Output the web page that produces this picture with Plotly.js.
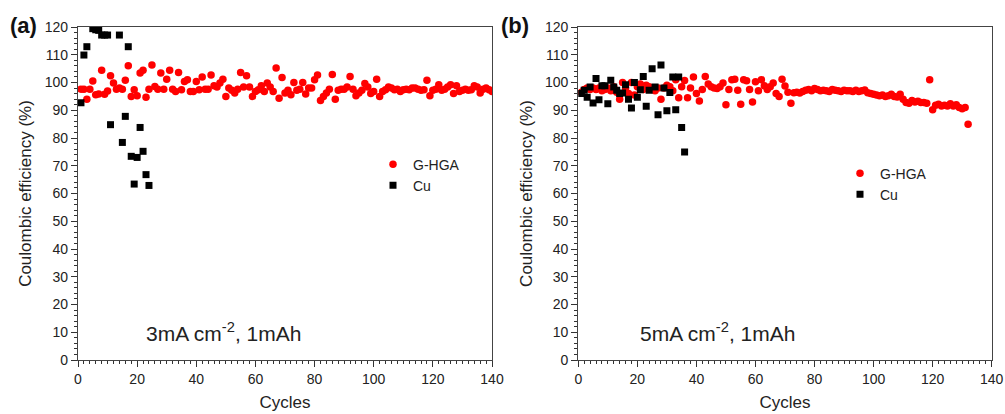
<!DOCTYPE html>
<html>
<head>
<meta charset="utf-8">
<script src="https://cdn.plot.ly/plotly-3.0.1.min.js"></script>
<style>html,body{margin:0;padding:0;background:#fff;}#chart{width:1005px;height:414px;}</style>
</head>
<body>
<div id="chart"></div>
<script>
// ---- Panel (a): 3 mA cm-2, 1 mAh ----
const cyclesA_G = [1,2,3,4,5,6,7,8,9,10,11,12,13,14,15,16,17,18,19,20,21,22,23,24,25,26,27,28,29,30,31,32,33,34,35,36,37,38,39,40,41,42,43,44,45,46,47,48,49,50,51,52,53,54,55,56,57,58,59,60,61,62,63,64,65,66,67,68,69,70,71,72,73,74,75,76,77,78,79,80,81,82,83,84,85,86,87,88,89,90,91,92,93,94,95,96,97,98,99,100,101,102,103,104,105,106,107,108,109,110,111,112,113,114,115,116,117,118,119,120,121,122,123,124,125,126,127,128,129,130,131,132,133,134,135,136,137,138,139,140];
const effA_G = [97.6,97.6,94.0,97.6,100.5,95.6,95.9,104.4,95.8,96.9,
102.4,99.8,97.6,98.0,97.6,100.8,106.0,95.0,97.4,95.2,
103.4,104.4,94.7,97.6,106.3,98.6,97.6,103.4,97.6,101.2,
104.4,97.6,96.8,103.6,97.4,100.4,101.0,96.8,96.8,100.4,
97.4,102.0,97.6,97.6,102.7,98.8,98.4,99.8,101.2,95.0,
98.0,97.2,96.2,97.6,103.6,98.4,102.4,98.4,95.0,96.8,
97.4,98.8,96.8,99.8,98.4,96.8,105.2,94.3,101.8,96.2,
97.2,95.6,100.0,97.2,97.6,100.0,95.9,98.0,98.0,101.0,
102.7,93.5,95.0,96.2,97.6,102.9,94.0,97.2,97.6,97.6,
98.4,102.2,97.6,95.2,96.2,97.2,99.6,98.4,96.0,96.8,
101.2,95.0,96.8,97.4,98.4,98.0,97.4,97.6,96.8,97.4,
97.6,97.4,98.0,98.0,97.6,97.2,97.4,100.8,95.2,97.2,
97.6,99.2,97.2,97.6,98.4,99.2,96.0,98.8,96.8,97.2,
97.6,97.2,97.4,98.8,98.4,96.2,97.6,98.0,97.4,96.8];
const cyclesA_Cu = [1,2,3,5,6,7,8,9,10,11,14,15,16,17,18,19,20,21,22,23,24];
const effA_Cu = [92.7,109.9,112.9,119.4,119.0,118.8,117.1,117.1,117.1,84.8,117.1,78.4,87.8,112.9,73.4,63.4,73.0,83.8,75.2,66.8,62.9];

// ---- Panel (b): 5 mA cm-2, 1 mAh ----
const cyclesB_G = [1,2,3,4,5,6,7,8,9,10,11,12,13,14,15,16,17,18,19,20,21,22,23,24,25,26,27,28,29,30,31,32,33,34,35,36,37,38,39,40,41,42,43,44,45,46,47,48,49,50,51,52,53,54,55,56,57,58,59,60,61,62,63,64,65,66,67,68,69,70,71,72,73,74,75,76,77,78,79,80,81,82,83,84,85,86,87,88,89,90,91,92,93,94,95,96,97,98,99,100,101,102,103,104,105,106,107,108,109,110,111,112,113,114,115,116,117,118,119,120,121,122,123,124,125,126,127,128,129,130,131,132];
const effB_G = [96.5,97.5,98.0,97.5,98.0,97.5,98.0,97.0,97.5,98.0,
97.0,98.5,96.5,94.0,100.0,98.0,96.0,100.0,95.5,98.5,
99.5,97.5,99.0,98.5,97.5,97.0,98.0,94.0,98.0,99.0,
98.5,97.0,101.0,94.5,98.5,100.7,94.5,98.0,102.0,96.0,
93.3,97.5,102.2,99.5,98.5,98.0,97.8,98.5,99.8,92.0,
97.5,101.0,101.2,97.2,92.2,101.0,100.6,97.5,93.0,100.3,
97.0,101.0,98.8,97.5,98.5,99.8,96.0,95.0,101.2,98.7,
96.5,92.5,96.3,96.5,96.2,96.8,97.2,97.5,97.0,97.8,
97.5,97.0,97.2,97.0,96.8,97.5,97.2,97.0,96.8,97.2,
97.0,97.0,96.8,97.2,96.8,97.0,97.3,96.3,96.0,95.8,
95.5,95.2,95.5,95.0,95.2,95.8,95.0,94.8,95.8,94.0,
92.8,92.5,93.5,93.0,93.2,92.8,92.8,92.5,101.0,90.2,
91.8,92.2,91.5,91.8,91.5,92.3,91.5,92.0,91.0,90.5,
91.0,85.0];
const cyclesB_Cu = [1,2,3,4,5,6,7,8,9,10,11,12,13,14,15,16,17,18,19,20,21,22,23,24,25,26,27,28,29,30,31,32,33,34,35,36];
const effB_Cu = [96.0,97.2,94.7,98.4,92.6,101.4,93.8,98.8,98.8,92.3,
100.8,98.4,97.2,96.0,96.2,99.2,94.0,90.8,100.0,94.7,
97.4,102.2,91.4,97.2,105.0,98.4,88.4,106.3,98.0,89.8,
96.4,102.0,90.2,102.0,83.8,75.0];

const seriesNames = ['G-HGA','Cu'];
const xTickVals = [0,20,40,60,80,100,120,140];
const yTickVals = [0,10,20,30,40,50,60,70,80,90,100,110,120];
const panelLabels = ['(a)','(b)'];
const conditionLabels = ['3mA cm<sup>-2</sup>, 1mAh','5mA cm<sup>-2</sup>, 1mAh'];

const FONT = 'Liberation Sans, Arial, sans-serif';
const TXT = '#222';
const redMarker = {color:'#ff0000', size:7.5, symbol:'circle'};
const blackMarker = {color:'#000000', size:7, symbol:'square'};

const traces = [
  {x:cyclesA_G, y:effA_G, name:seriesNames[0], type:'scatter', mode:'markers', marker:redMarker, xaxis:'x', yaxis:'y', legend:'legend'},
  {x:cyclesA_Cu, y:effA_Cu, name:seriesNames[1], type:'scatter', mode:'markers', marker:blackMarker, xaxis:'x', yaxis:'y', legend:'legend'},
  {x:cyclesB_G, y:effB_G, name:seriesNames[0], type:'scatter', mode:'markers', marker:redMarker, xaxis:'x2', yaxis:'y2', legend:'legend2'},
  {x:cyclesB_Cu, y:effB_Cu, name:seriesNames[1], type:'scatter', mode:'markers', marker:blackMarker, xaxis:'x2', yaxis:'y2', legend:'legend2'}
];

function xa(domain, anchor){
  return {domain:domain, anchor:anchor, range:[0,140], tickvals:xTickVals, ticks:'outside', ticklen:6, tickwidth:1, tickcolor:'#333',
    minor:{dtick:2, ticklen:3, tickcolor:'#333', ticks:'outside', tick0:0},
    showline:true, linecolor:'#444', linewidth:1.2, mirror:true, showgrid:false, zeroline:false,
    tickfont:{family:FONT, size:14, color:TXT},
    title:{text:'Cycles', font:{family:FONT, size:17, color:TXT}, standoff:10}};
}
function ya(anchor){
  return {domain:[0,1], anchor:anchor, range:[0,120], tickvals:yTickVals, ticks:'outside', ticklen:6, tickwidth:1, tickcolor:'#333',
    minor:{dtick:2, ticklen:3, tickcolor:'#333', ticks:'outside', tick0:0},
    showline:true, linecolor:'#444', linewidth:1.2, mirror:true, showgrid:false, zeroline:false,
    tickfont:{family:FONT, size:14, color:TXT},
    title:{text:'Coulombic efficiency (%)', font:{family:FONT, size:17, color:TXT}, standoff:8}};
}

const layout = {
  width:1005, height:414,
  margin:{l:0, r:0, t:27, b:54, pad:0},
  paper_bgcolor:'#fff', plot_bgcolor:'#fff',
  font:{family:FONT, color:TXT},
  xaxis: xa([78/1005, 492/1005], 'y'),
  yaxis: ya('x'),
  xaxis2: xa([578.3/1005, 991.7/1005], 'y2'),
  yaxis2: ya('x2'),
  legend:{x:373/1005, y:0.635, xanchor:'left', yanchor:'top', bgcolor:'rgba(0,0,0,0)', font:{family:FONT, size:14, color:TXT}, tracegroupgap:0, itemsizing:'trace'},
  legend2:{x:840/1005, y:0.608, xanchor:'left', yanchor:'top', bgcolor:'rgba(0,0,0,0)', font:{family:FONT, size:14, color:TXT}, tracegroupgap:0, itemsizing:'trace'},
  annotations:[
    {text:panelLabels[0], xref:'paper', yref:'paper', x:8/1005, y:1+1/333, xanchor:'left', yanchor:'middle', showarrow:false, font:{family:FONT, size:22, color:'#111', weight:'bold'}},
    {text:panelLabels[1], xref:'paper', yref:'paper', x:499/1005, y:1+1/333, xanchor:'left', yanchor:'middle', showarrow:false, font:{family:FONT, size:22, color:'#111', weight:'bold'}},
    {text:conditionLabels[0], xref:'paper', yref:'paper', x:144/1005, y:1-(332-27)/333, xanchor:'left', yanchor:'middle', showarrow:false, font:{family:FONT, size:21, color:TXT}},
    {text:conditionLabels[1], xref:'paper', yref:'paper', x:638/1005, y:1-(332-27)/333, xanchor:'left', yanchor:'middle', showarrow:false, font:{family:FONT, size:21, color:TXT}}
  ]
};

Plotly.newPlot('chart', traces, layout, {displayModeBar:false, staticPlot:true});
</script>
</body>
</html>
